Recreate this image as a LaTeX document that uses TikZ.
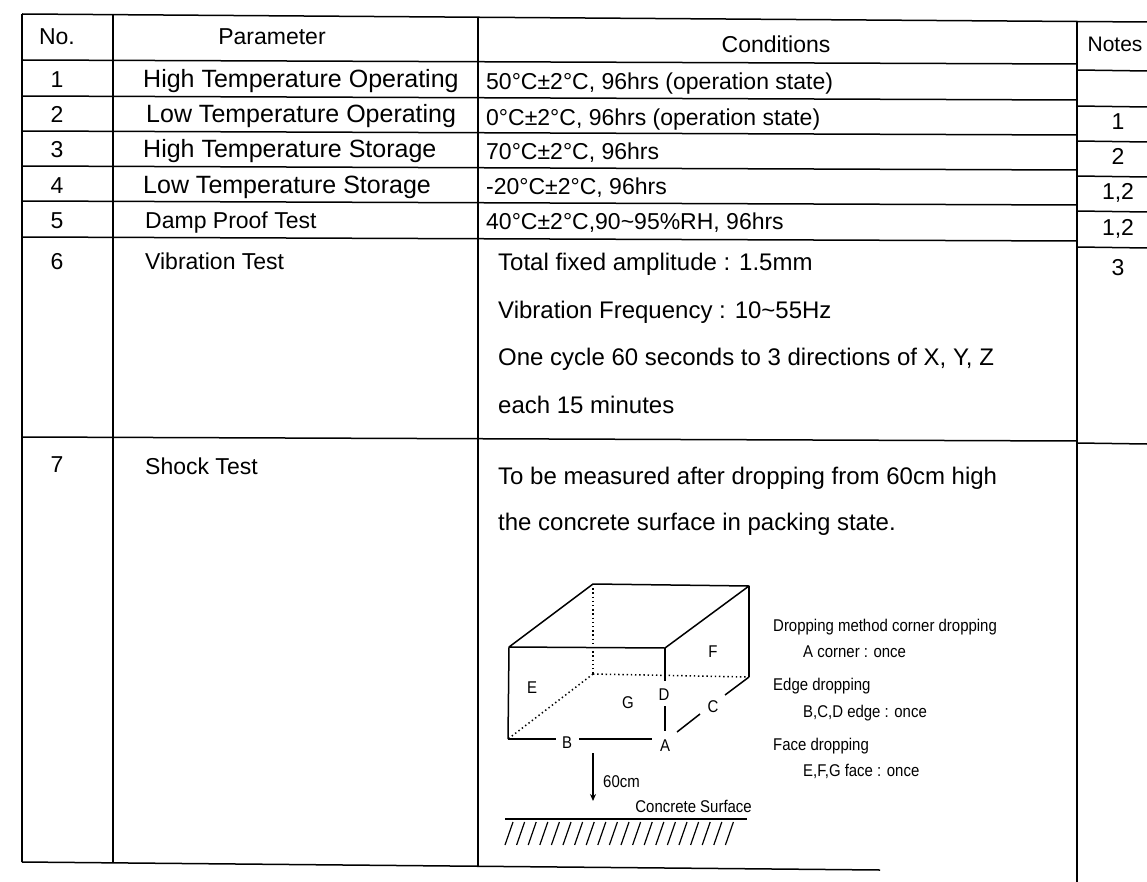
\documentclass[tikz,border=0pt]{standalone}
\usepackage{fontspec}
\setmainfont{Liberation Sans}
\newfontfamily\narrowfont[FakeStretch=0.88]{Liberation Sans}
\usetikzlibrary{arrows.meta}
\begin{document}
\begin{tikzpicture}[x=1pt,y=-1pt,
  tline/.style={line width=1.5pt,black},
  bline/.style={line width=1.5pt,black},
  dline/.style={line width=1.5pt,black,dash pattern=on 1.4pt off 2.8pt},
  txt/.style={font=\fontsize{23}{27}\selectfont,inner sep=0pt},
  ptxt/.style={font=\fontsize{25}{29}\selectfont,inner sep=0pt},
  ctxt/.style={font=\fontsize{24}{28}\selectfont,inner sep=0pt},
  ntxt/.style={font=\fontsize{21}{25}\selectfont,inner sep=0pt},
  lbl/.style={font=\narrowfont\fontsize{17}{20}\selectfont,inner sep=0pt},
  let/.style={font=\narrowfont\fontsize{17}{20}\selectfont,inner sep=0pt}]
\useasboundingbox[fill=white] (0,0) rectangle (1147,882);
% ---------- table frame ----------
\draw[tline] (22,14) -- (1147,22);
\draw[tline] (22,14) -- (22,862);
\draw[tline] (113,15) -- (113,863);
\draw[tline] (478,17) -- (478,866);
\draw[tline] (1077,21) -- (1077,882);
\draw[tline] (22,862) -- (880,870);
% main row lines
\foreach \y in {60,96,131,166,201,237,437}
  \draw[tline] (22,\y) -- (1077,\y+4);
% notes column row lines
\foreach \y in {70,106,141,176,211,247,443}
  \draw[tline] (1077,\y) -- (1147,\y+1);
% ---------- header ----------
\node[txt,anchor=base] (hNo) at (57,45) {No.};
\node[txt,anchor=base] (hPar) at (272,45) {Parameter};
\node[txt,anchor=base] (hCon) at (776,53) {Conditions};
\node[ntxt,anchor=base] (hNot) at (1115,52) {Notes};
% ---------- rows ----------
\node[txt,anchor=base] (n1) at (57,88) {1};
\node[txt,anchor=base] (n2) at (57,123) {2};
\node[txt,anchor=base] (n3) at (57,158) {3};
\node[txt,anchor=base] (n4) at (57,194) {4};
\node[txt,anchor=base] (n5) at (57,229) {5};
\node[txt,anchor=base] (n6) at (57,270) {6};
\node[txt,anchor=base] (n7) at (57,472) {7};
\node[ptxt,anchor=base west] (p1) at (143,88) {High Temperature Operating};
\node[ptxt,anchor=base west] (p2) at (146,123) {Low Temperature Operating};
\node[ptxt,anchor=base west] (p3) at (143,158) {High Temperature Storage};
\node[ptxt,anchor=base west] (p4) at (143,194) {Low Temperature Storage};
\node[txt,anchor=base west] (p5) at (145,229) {Damp Proof Test};
\node[txt,anchor=base west] (p6) at (145,270) {Vibration Test};
\node[txt,anchor=base west] (p7) at (145,474) {Shock Test};
\node[txt,anchor=base west] (c1) at (486,90) {50°C±2°C, 96hrs (operation state)};
\node[txt,anchor=base west] (c2) at (486,126) {0°C±2°C, 96hrs (operation state)};
\node[txt,anchor=base west] (c3) at (486,160) {70°C±2°C, 96hrs};
\node[txt,anchor=base west] (c4) at (486,195) {-20°C±2°C, 96hrs};
\node[txt,anchor=base west] (c5) at (486,230) {40°C±2°C,90\textasciitilde95\%RH, 96hrs};
\node[ctxt,anchor=base west] (c6a) at (498,271) {Total fixed amplitude : 1.5mm};
\node[ctxt,anchor=base west] (c6b) at (498,318) {Vibration Frequency : 10\textasciitilde55Hz};
\node[ctxt,anchor=base west] (c6c) at (498,365) {One cycle 60 seconds to 3 directions of X, Y, Z};
\node[ctxt,anchor=base west] (c6d) at (498,413) {each 15 minutes};
\node[ctxt,anchor=base west] (c7a) at (498,484) {To be measured after dropping from 60cm high};
\node[ctxt,anchor=base west] (c7b) at (498,530) {the concrete surface in packing state.};
\node[txt,anchor=base] (o2) at (1118,130) {1};
\node[txt,anchor=base] (o3) at (1118,165) {2};
\node[txt,anchor=base] (o4) at (1118,200) {1,2};
\node[txt,anchor=base] (o5) at (1118,236) {1,2};
\node[txt,anchor=base] (o6) at (1118,276) {3};
% ---------- box ----------
\coordinate (FTL) at (509,647);
\coordinate (FTR) at (665,648);
\coordinate (BTL) at (593,584);
\coordinate (BTR) at (749,586);
\coordinate (FBL) at (508,739);
\coordinate (BBR) at (749,677);
\coordinate (BBL) at (593,674);
\draw[bline,line join=round] (FBL) -- (FTL) -- (BTL) -- (BTR) -- (FTR) -- (FTL);
\draw[bline] (BTR) -- (BBR);
\draw[dline] (BTL) -- (BBL);
\draw[dline] (BBL) -- (BBR);
\draw[dline] (BBL) -- (FBL);
\node[let] (lD) at (664,695) {D};
\node[let] (lA) at (665,746) {A};
\node[let] (lB) at (567,743) {B};
\node[let] (lC) at (713,707) {C};
\node[let] (lE) at (532,688) {E};
\node[let] (lF) at (713,652) {F};
\node[let] (lG) at (628,703) {G};
\draw[bline] (FTR) -- (665,681);
\draw[bline] (665,706) -- (665,731);
\draw[bline] (FBL) -- (556,739);
\draw[bline] (579,739) -- (652,739);
\draw[bline] (677,732) -- (700,714);
\draw[bline] (725,695) -- (BBR);
% ---------- drop arrow & ground ----------
\coordinate (arS) at (593,753);
\coordinate (arE) at (593,801);
\draw[line width=1.3pt,-{Stealth[length=7pt,width=6pt]}] (arS) -- (arE);
\node[lbl,anchor=west] (l60) at (603,782) {60cm};
\node[lbl,anchor=east] (lcs) at (752,806) {Concrete Surface};
\coordinate (g1) at (505,819);
\coordinate (g2) at (747,819);
\draw[line width=1.4pt] (g1) -- (g2);
\foreach \i in {0,...,19}
  \draw[line width=1.2pt] (505+\i*11.6,845) -- (513+\i*11.6,822);
% ---------- legend ----------
\node[lbl,anchor=west] (t1) at (773,627) {Dropping method corner dropping};
\node[lbl,anchor=west] (t2) at (803,652) {A corner : once};
\node[lbl,anchor=west] (t3) at (773,686) {Edge dropping};
\node[lbl,anchor=west] (t4) at (803,713) {B,C,D edge : once};
\node[lbl,anchor=west] (t5) at (773,746) {Face dropping};
\node[lbl,anchor=west] (t6) at (803,771) {E,F,G face : once};
\end{tikzpicture}
\end{document}
